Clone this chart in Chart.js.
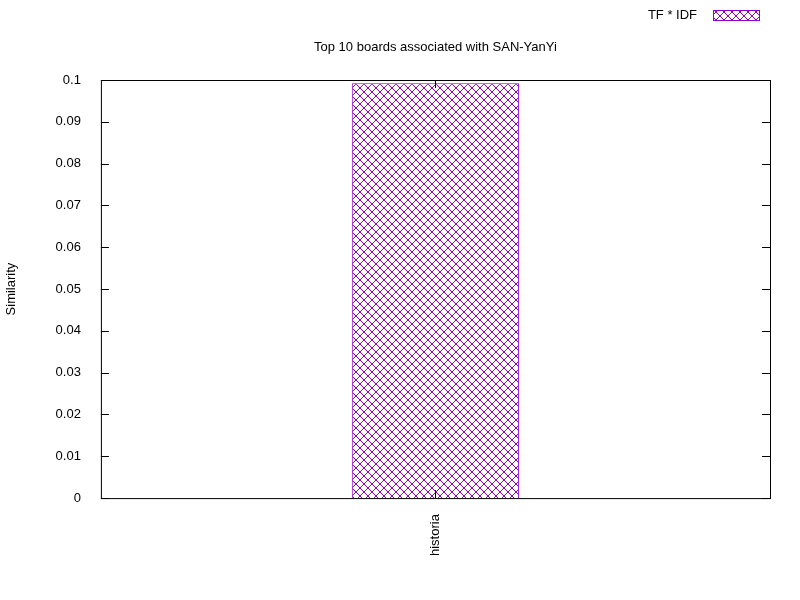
<!DOCTYPE html>
<html>
<head>
<script src="https://cdn.jsdelivr.net/npm/chart.js@4"></script>
<style>body{margin:0;background:#fff}</style>
</head>
<body>
<canvas id="c" width="800" height="600"></canvas>
<script>
var labels = ['historia'];
var values = [0.0992];
var yTicks = [0, 0.01, 0.02, 0.03, 0.04, 0.05, 0.06, 0.07, 0.08, 0.09, 0.1];
var seriesName = 'TF * IDF';
var chartTitle = 'Top 10 boards associated with SAN-YanYi';
var FONT = '13px "Liberation Sans"';

// gnuplot style crosshatch
function hatch() {
	var p = document.createElement('canvas');
	p.width = 8; p.height = 8;
	var g = p.getContext('2d');
	g.fillStyle = '#fff';
	g.fillRect(0, 0, 8, 8);
	g.strokeStyle = '#9400d3';
	g.lineWidth = 1;
	g.beginPath();
	g.moveTo(0, 0); g.lineTo(8, 8);
	g.moveTo(8, 0); g.lineTo(0, 8);
	g.stroke();
	return g.createPattern(p, 'repeat');
}
var pat = hatch();

// inward ticks, frame, gnuplot-like key and title
var gnuplotLook = {
	id: 'gnuplotLook',
	afterDraw: function (chart) {
		var ctx = chart.ctx, a = chart.chartArea, y = chart.scales.y, x = chart.scales.x;
		ctx.save();
		ctx.strokeStyle = '#000';
		ctx.lineWidth = 1;
		ctx.beginPath();
		yTicks.forEach(function (t) {
			var py = Math.round(y.getPixelForValue(t)) + 0.5;
			ctx.moveTo(a.left, py); ctx.lineTo(a.left + 8, py);
			ctx.moveTo(a.right, py); ctx.lineTo(a.right - 8, py);
		});
		var px = Math.round(x.getPixelForValue(0)) + 0.5;
		ctx.moveTo(px, a.bottom); ctx.lineTo(px, a.bottom - 8);
		ctx.moveTo(px, a.top); ctx.lineTo(px, a.top + 8);
		ctx.stroke();
		ctx.strokeRect(a.left + 0.5, a.top + 0.5, a.right - a.left, a.bottom - a.top);

		ctx.fillStyle = '#000';
		ctx.font = FONT;
		ctx.textBaseline = 'middle';
		ctx.textAlign = 'center';
		ctx.fillText(chartTitle, (a.left + a.right) / 2, 47);
		ctx.textAlign = 'right';
		ctx.fillText(seriesName, 697, 15);
		ctx.fillStyle = pat;
		ctx.fillRect(713, 10, 46, 10);
		ctx.strokeStyle = '#9400d3';
		ctx.strokeRect(713.5, 10.5, 46, 10);
		ctx.restore();
	}
};

var ctx = document.getElementById('c').getContext('2d');
new Chart(ctx, {
	type: 'bar',
	data: {
		labels: labels,
		datasets: [{
			label: seriesName,
			data: values,
			backgroundColor: pat,
			borderColor: '#9400d3',
			borderWidth: 1,
			categoryPercentage: 0.25,
			barPercentage: 1
		}]
	},
	options: {
		responsive: false,
		animation: false,
		layout: { padding: { top: 80, right: 30, left: 0, bottom: 36 } },
		plugins: {
			legend: { display: false },
			title: { display: false },
			tooltip: { enabled: false }
		},
		scales: {
			x: {
				grid: { display: false },
				border: { display: false },
				ticks: {
					color: '#000',
					font: { family: 'Liberation Sans', size: 13 },
					minRotation: 90,
					maxRotation: 90,
					padding: 8
				}
			},
			y: {
				min: 0,
				max: 0.1,
				grid: { display: false },
				border: { display: false },
				afterBuildTicks: function (s) { s.ticks = yTicks.map(function (v) { return { value: v }; }); },
				ticks: {
					color: '#000',
					font: { family: 'Liberation Sans', size: 13 },
					padding: 12,
					callback: function (v) { return String(+v.toFixed(2)); }
				},
				title: {
					display: true,
					text: 'Similarity',
					color: '#000',
					font: { family: 'Liberation Sans', size: 13 },
					padding: { bottom: 24 }
				}
			}
		}
	},
	plugins: [gnuplotLook]
});
</script>
</body>
</html>
